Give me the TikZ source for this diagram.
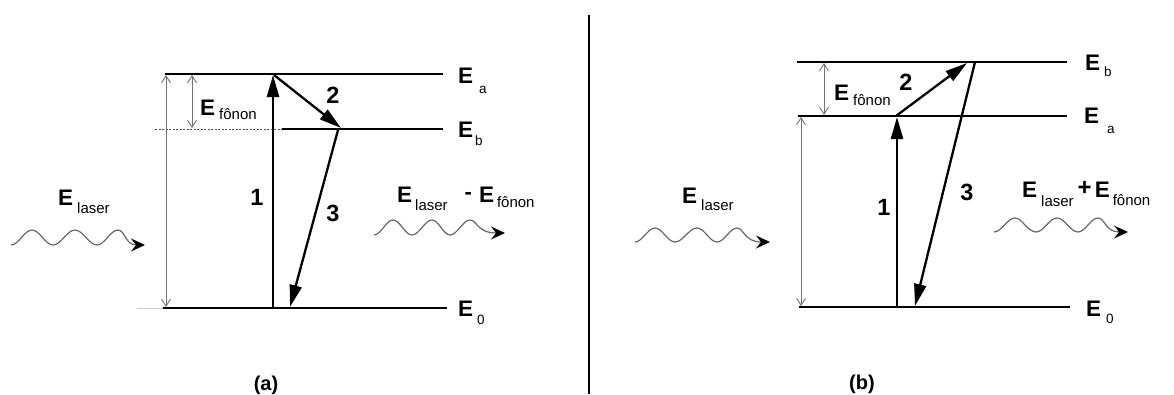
\documentclass[tikz,border=0pt]{standalone}
\usepackage{fontspec}
\setmainfont{Liberation Sans}
\usetikzlibrary{arrows.meta}

% big bold E with a lowered subscript
\newcommand\bigE{{\fontsize{22.5}{24}\selectfont\bfseries E}}
\newcommand\subtxt[1]{{\fontsize{15}{16}\selectfont #1}}
\newcommand\lvltxt[1]{{\fontsize{13.5}{15}\selectfont #1}}
\newcommand\Elab[3]{\bigE\hspace{#1}\raisebox{-#2}{\subtxt{#3}}}
\newcommand\Elvl[3]{\bigE\hspace{#1}\raisebox{-#2}{\lvltxt{#3}}}

\tikzset{
  level/.style={line width=2.8pt},
  trans/.style={line width=2.3pt, -{Triangle[length=22pt,width=12pt]}},
  gaparrow/.style={draw=black!55, line width=0.9pt,
    {Straight Barb[length=7pt,width=9pt]}-{Straight Barb[length=7pt,width=9pt]}},
  wave/.style={draw=black!60, line width=1.2pt,
    -{Stealth[length=14pt,width=13pt,inset=5pt,color=black]}},
  txt/.style={inner sep=0pt, anchor=base west},
  num/.style={inner sep=0pt, font=\fontsize{23.5}{25}\selectfont\bfseries},
  captxt/.style={inner sep=0pt, font=\fontsize{20}{22}\selectfont\bfseries},
}

\begin{document}
\begin{tikzpicture}[x=1pt,y=-1pt]
\fill[white] (0,0) rectangle (1174,394);
\useasboundingbox (0,0) rectangle (1174,394);

% ---------------- panel (a): Stokes ----------------
\coordinate (aAl) at (165,74);  \coordinate (aAr) at (443,74);
\coordinate (aBd) at (155,129); \coordinate (aBl) at (282,129); \coordinate (aBr) at (443,129);
\coordinate (a0f) at (137,308); \coordinate (a0l) at (163,308); \coordinate (a0r) at (447,308);
\coordinate (aG1) at (166,75);  \coordinate (aG2) at (166,307);
\coordinate (aF1) at (192,75);  \coordinate (aF2) at (192,128);
\coordinate (a1s) at (273,308); \coordinate (a1e) at (273,75);
\coordinate (a2s) at (274,75);  \coordinate (a2e) at (341,128);
\coordinate (a3s) at (338,130); \coordinate (a3e) at (290,307);

\draw[level] (aAl) -- (aAr);
\draw[level] (aBl) -- (aBr);
\draw[black!70, line width=0.8pt, dash pattern=on 2pt off 1.5pt] (aBd) -- (aBl);
\draw[black!20, line width=1pt] (a0f) -- (a0l);
\draw[level] (a0l) -- (a0r);
\draw[gaparrow] (aG1) -- (aG2);
\draw[gaparrow] (aF1) -- (aF2);
\draw[trans] (a1s) -- (a1e);
\draw[trans] (a2s) -- (a2e);
\draw[trans] (a3s) -- (a3e);

\node[num] (an1) at (257,197) {1};
\node[num] (an2) at (333,95) {2};
\node[num] (an3) at (333,213) {3};

\node[txt] (aEf) at (200,115) {\Elab{4pt}{4pt}{fônon}};
\node[txt] (aEa) at (458,83)  {\Elvl{6pt}{10pt}{a}};
\node[txt] (aEb) at (458,137) {\Elvl{2pt}{8pt}{b}};
\node[txt] (aE0) at (458,316) {\Elvl{4pt}{8pt}{0}};
\node[txt] (aEin) at (58,205) {\Elab{4pt}{8pt}{laser}};
\node[txt] (aEout) at (397,202) {\Elab{3pt}{8pt}{laser}\hspace{17pt}\raisebox{3pt}{\fontsize{22}{24}\selectfont\bfseries -}\hspace{7pt}\Elab{3pt}{5pt}{fônon}};

\coordinate (aWin) at (145,245);
\draw[wave] (11,245) cos (21.5,237.5) sin (32,230) cos (42.5,237.5) sin (53,245)
  cos (64,237.5) sin (75,230) cos (86,237.5) sin (97,245) cos (107.5,237.5) sin (118,230)
  .. controls (125,230) and (125,245) .. (aWin);
\coordinate (aWout) at (505,233);
\draw[wave] (374,235) cos (383.5,227.5) sin (393,220) cos (402.5,227.5) sin (412,235)
  cos (422,227.5) sin (432,220) cos (441,227.5) sin (450,235) cos (460,227.5) sin (470,220)
  .. controls (477,220) and (477,233) .. (aWout);

\node[captxt] (acap) at (266,385) {(a)};

% divider
\coordinate (d1) at (589,15); \coordinate (d2) at (589,394);
\draw[line width=1.4pt] (d1) -- (d2);

% ---------------- panel (b): anti-Stokes ----------------
\coordinate (bBl) at (797,62);  \coordinate (bBr) at (1067,62);
\coordinate (bAl) at (798,116); \coordinate (bAr) at (1067,116);
\coordinate (b0l) at (799,307); \coordinate (b0r) at (1070,307);
\coordinate (bG1) at (801,117); \coordinate (bG2) at (801,306);
\coordinate (bF1) at (824,63);  \coordinate (bF2) at (824,115);
\coordinate (b1s) at (897,307); \coordinate (b1e) at (897,117);
\coordinate (b2s) at (896,116); \coordinate (b2e) at (967,63);
\coordinate (b3s) at (975,62);  \coordinate (b3e) at (915,306);

\draw[level] (bBl) -- (bBr);
\draw[level] (bAl) -- (bAr);
\draw[level] (b0l) -- (b0r);
\draw[gaparrow] (bG1) -- (bG2);
\draw[gaparrow] (bF1) -- (bF2);
\draw[trans] (b1s) -- (b1e);
\draw[trans] (b2s) -- (b2e);
\draw[trans] (b3s) -- (b3e);

\node[num] (bn1) at (884,207) {1};
\node[num] (bn2) at (906,82) {2};
\node[num] (bn3) at (967,192) {3};

\node[txt] (bEf) at (834,100) {\Elab{4pt}{5pt}{fônon}};
\node[txt] (bEb) at (1085,70)  {\Elvl{4pt}{6pt}{b}};
\node[txt] (bEa) at (1084,123) {\Elvl{8pt}{10pt}{a}};
\node[txt] (bE0) at (1086,316) {\Elvl{5pt}{7pt}{0}};
\node[txt] (bEin) at (682,203) {\Elab{4pt}{7pt}{laser}};
\node[txt] (bEout) at (1022,197) {\Elab{4pt}{9pt}{laser}\hspace{4pt}\raisebox{2pt}{\fontsize{24}{26}\selectfont\bfseries +}\hspace{3pt}\Elab{3pt}{8pt}{fônon}};

\coordinate (bWin) at (770,242);
\draw[wave] (635,242) cos (645,235) sin (655,228) cos (665,235) sin (675,242)
  cos (686,235) sin (697,228) cos (707,235) sin (717,242) cos (727,235) sin (737,228)
  .. controls (744,228) and (744,242) .. (bWin);
\coordinate (bWout) at (1128,232);
\draw[wave] (994,232) cos (1004.5,225) sin (1015,218) cos (1025,225) sin (1036,232)
  cos (1046.5,225) sin (1057,218) cos (1067.5,225) sin (1078,232) cos (1088,225) sin (1098,218)
  .. controls (1105,218) and (1105,232) .. (bWout);

\node[captxt] (bcap) at (862,384) {(b)};
\end{tikzpicture}
\end{document}
